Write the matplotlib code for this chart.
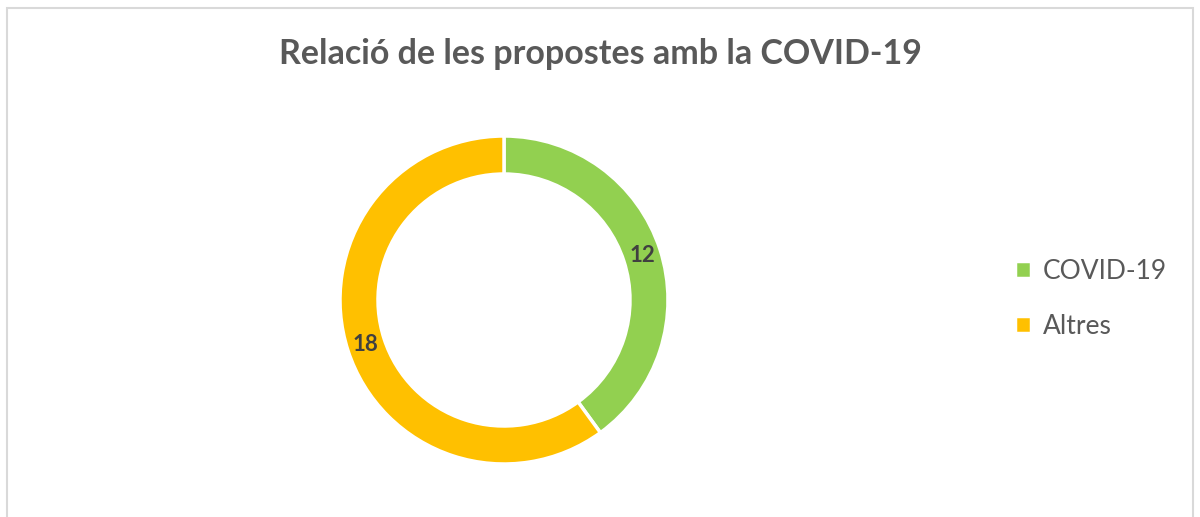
import matplotlib.pyplot as plt
from matplotlib.patches import Rectangle

categories = ["COVID-19", "Altres"]
values = [12, 18]
colors = ["#92D050", "#FFC000"]
title = "Relació de les propostes amb la COVID-19"

W, H = 1200, 517
fig = plt.figure(figsize=(12, 5.17), dpi=100)
ax = fig.add_axes([0, 0, 1, 1])

# chart border (bottom edge runs off the image)
ax.add_patch(Rectangle((6.5, -20), 1186, H - 7.5 + 20, fill=False, edgecolor="#D9D9D9", linewidth=1.5))

wedges, texts = ax.pie(values, colors=colors, startangle=90, counterclock=False,
                       center=(504, H - 300), radius=164, labels=values, labeldistance=0.885,
                       wedgeprops=dict(width=38, edgecolor="white", linewidth=2.5),
                       frame=True)
for t in texts:
    t.set_fontsize(16)
    t.set_fontweight("bold")
    t.set_color("#404040")
    t.set_family("Lato")
    t.set_ha("center")
    t.set_va("center")

ax.set_xlim(0, W)
ax.set_ylim(0, H)
ax.set_aspect("equal")
ax.axis("off")

ax.text(600, H - 54, title, ha="center", va="center", fontsize=24.5, fontweight="bold",
        color="#595959", family="Lato")

leg = ax.legend(wedges, categories, loc="center left", bbox_to_anchor=(1015 / W, 1 - 299 / H),
                frameon=False, handlelength=0.6, handleheight=0.6, handletextpad=0.45,
                labelspacing=1.15, borderpad=0, borderaxespad=0,
                prop=dict(family="Lato", size=19))
for t in leg.get_texts():
    t.set_color("#595959")

fig.savefig("out.png", dpi=100)
